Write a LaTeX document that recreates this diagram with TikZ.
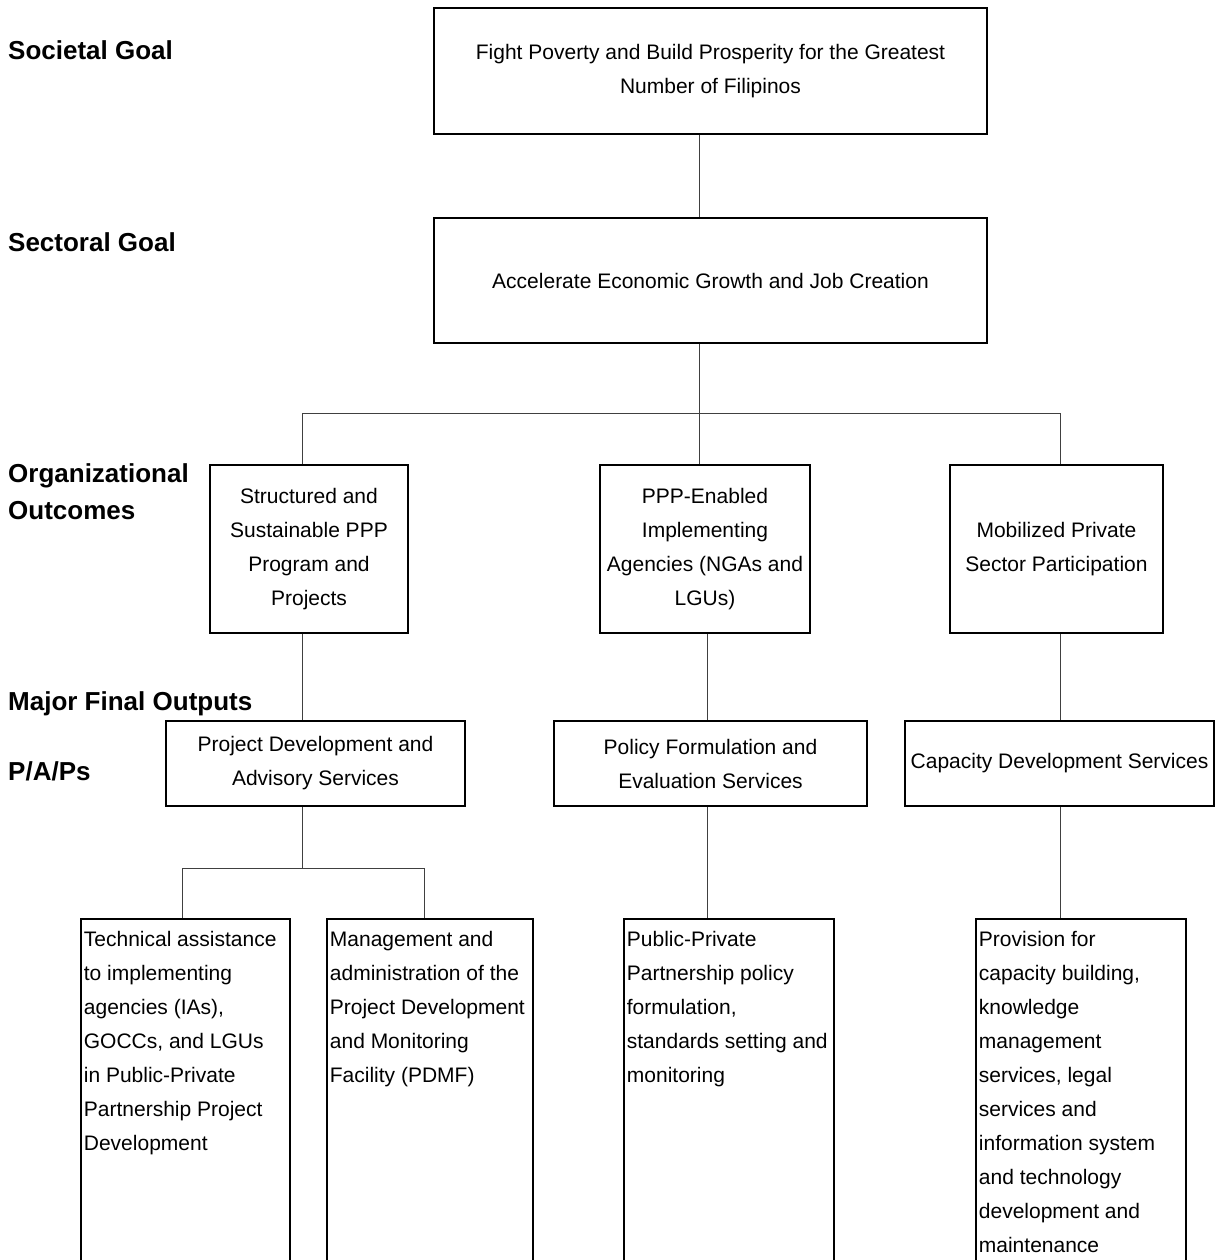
\documentclass[tikz,border=0pt]{standalone}
\usepackage{fontspec}
\setmainfont{Liberation Sans}
\usepackage{tikz}

\newcommand{\paptext}[2]{\parbox[t][340pt][t]{#1}{\raggedright #2}}

\begin{document}
\begin{tikzpicture}[
    x=1pt, y=-1pt,
    levelnode/.style={anchor=west, align=left, inner sep=0pt, font={\fontsize{26}{37}\selectfont\bfseries}},
    framed/.style={draw=black, line width=1.8pt, font={\fontsize{21}{34}\selectfont}},
    boxnode/.style={framed, align=center, inner sep=0pt},
    papnode/.style={framed, anchor=north west, inner xsep=3pt, inner ysep=12pt},
    link/.style={draw=black!75, line width=1pt}
    ]
        \useasboundingbox (0,0) rectangle (1220,1260);

        %Levels
        \node[levelnode] (lsoc) at (8,50)    {Societal Goal};
        \node[levelnode] (lsec) at (8,242)   {Sectoral Goal};
        \node[levelnode] (loo)  at (8,492)   {Organizational\\Outcomes};
        \node[levelnode] (lmfo) at (8,704)   {Major Final Outputs};
        \node[levelnode] (lpap) at (8,771)   {P/A/Ps};

        %Nodes
        \node[boxnode, minimum width=553pt, minimum height=126pt]
            (societal)  at (710.5,71)   {Fight Poverty and Build Prosperity for the Greatest\\Number of Filipinos};
        \node[boxnode, minimum width=553pt, minimum height=125pt]
            (sectoral)  at (710.5,280.5) {Accelerate Economic Growth and Job Creation};

        \node[boxnode, minimum width=198pt, minimum height=168pt]
            (oo1)   at (309,549)    {Structured and\\Sustainable PPP\\Program and\\Projects};
        \node[boxnode, minimum width=210pt, minimum height=168pt]
            (oo2)   at (705,549)    {PPP-Enabled\\Implementing\\Agencies (NGAs and\\LGUs)};
        \node[boxnode, minimum width=213pt, minimum height=168pt]
            (oo3)   at (1056.5,549) {Mobilized Private\\Sector Participation};

        \node[boxnode, minimum width=299pt, minimum height=85pt]
            (mfo1)  at (315.5,763.5)  {Project Development and\\Advisory Services};
        \node[boxnode, minimum width=313pt, minimum height=85pt]
            (mfo2)  at (710.5,763.5)  {Policy Formulation and\\Evaluation Services};
        \node[boxnode, minimum width=309pt, minimum height=85pt]
            (mfo3)  at (1059.5,763.5) {Capacity Development Services};

        \node[papnode]
            (pap1)  at (80,918)     {\paptext{203pt}{Technical assistance\\to implementing\\agencies (IAs),\\GOCCs, and LGUs\\in Public-Private\\Partnership Project\\Development}};
        \node[papnode]
            (pap2)  at (326,918)    {\paptext{200pt}{Management and\\administration of the\\Project Development\\and Monitoring\\Facility (PDMF)}};
        \node[papnode]
            (pap3)  at (623,918)    {\paptext{204pt}{Public-Private\\Partnership policy\\formulation,\\standards setting and\\monitoring}};
        \node[papnode]
            (pap4)  at (975,918)    {\paptext{204pt}{Provision for\\capacity building,\\knowledge\\management\\services, legal\\services and\\information system\\and technology\\development and\\maintenance}};

        %Joints
        \coordinate (trunk) at (699,413);
        \coordinate (col1)  at (302,413);
        \coordinate (col2)  at (707,413);
        \coordinate (col3)  at (1060,413);
        \coordinate (fork)  at (302,868);
        \coordinate (tech)  at (182,868);
        \coordinate (mgmt)  at (424,868);

        %Lines
        \draw[link] (societal.south -| trunk) -- (sectoral.north -| trunk);
        \draw[link] (sectoral.south -| trunk) -- (trunk);
        \draw[link] (col1) -- (col3);
        \draw[link] (col1) -- (oo1.north -| col1);
        \draw[link] (trunk) -- (oo2.north -| trunk);
        \draw[link] (col3) -- (oo3.north -| col3);

        \draw[link] (oo1.south -| col1) -- (mfo1.north -| col1);
        \draw[link] (oo2.south -| col2) -- (mfo2.north -| col2);
        \draw[link] (oo3.south -| col3) -- (mfo3.north -| col3);

        \draw[link] (mfo1.south -| fork) -- (fork);
        \draw[link] (tech |- pap1.north) -- (tech) -- (mgmt) -- (mgmt |- pap2.north);
        \draw[link] (mfo2.south -| col2) -- (pap3.north -| col2);
        \draw[link] (mfo3.south -| col3) -- (pap4.north -| col3);
    \end{tikzpicture}
\end{document}
